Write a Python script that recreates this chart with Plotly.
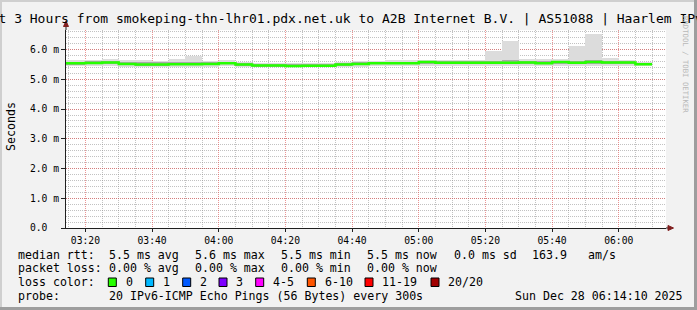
import plotly.graph_objects as go
import pandas as pd

W, H = 697, 310
L, R, T, B = 66, 31, 30, 82
PW = W - L - R
PH = H - T - B

# ---------------- data ----------------
bin_start = pd.date_range('2025-12-28 03:10:00', periods=36, freq='5min')
median_ms = [5.54, 5.54, 5.55, 5.57, 5.52, 5.50, 5.50, 5.51, 5.51, 5.52,
             5.545, 5.50, 5.47, 5.47, 5.45, 5.46, 5.46, 5.50, 5.52, 5.54,
             5.54, 5.54, 5.58, 5.56, 5.56, 5.56, 5.56, 5.56, 5.57, 5.545,
             5.58, 5.555, 5.585, 5.57, 5.57, 5.51]
smoke_min = [5.44, 5.44, 5.44, 5.45, 5.42, 5.42, 5.42, 5.43, 5.43, 5.43,
             5.44, 5.42, 5.40, 5.40, 5.40, 5.40, 5.40, 5.42, 5.43, 5.45,
             5.45, 5.45, 5.46, 5.45, 5.45, 5.45, 5.44, 5.44, 5.45, 5.45,
             5.46, 5.46, 5.46, 5.45, 5.46, 5.44]
smoke_lo = [5.49, 5.49, 5.50, 5.52, 5.47, 5.46, 5.46, 5.47, 5.47, 5.48,
            5.50, 5.46, 5.43, 5.43, 5.42, 5.43, 5.43, 5.46, 5.48, 5.50,
            5.50, 5.50, 5.53, 5.51, 5.51, 5.51, 5.51, 5.51, 5.52, 5.50,
            5.53, 5.51, 5.53, 5.52, 5.52, 5.47]
smoke_hi = [5.60, 5.60, 5.61, 5.62, 5.58, 5.57, 5.57, 5.58, 5.59, 5.58,
            5.60, 5.55, 5.52, 5.52, 5.50, 5.51, 5.51, 5.55, 5.57, 5.59,
            5.59, 5.59, 5.62, 5.61, 5.61, 5.61, 5.63, 5.64, 5.62, 5.61,
            5.63, 5.63, 5.66, 5.63, 5.61, 5.55]
smoke_max = [5.66, 5.66, 5.66, 5.67, 5.64, 5.64, 5.63, 5.67, 5.78, 5.62,
             5.64, 5.59, 5.56, 5.56, 5.56, 5.56, 5.56, 5.57, 5.61, 5.63,
             5.65, 5.65, 5.66, 5.65, 5.65, 5.65, 5.97, 6.28, 5.69, 5.69,
             5.69, 6.13, 6.53, 5.72, 5.64, 5.59]

y_tickvals = [0, 1, 2, 3, 4, 5, 6]
y_ticktext = ['0.0\u00a0\u00a0', '1.0 m', '2.0 m', '3.0 m', '4.0 m', '5.0 m', '6.0 m']

title_text = ('Last 3 Hours from smokeping-thn-lhr01.pdx.net.uk to A2B Internet B.V. '
              '| AS51088 | Haarlem IPv6')
rtt_labels = ['5.5 ms avg', '5.6 ms max', '5.5 ms min', '5.5 ms now', '0.0 ms sd', '163.9', 'am/s']
loss_labels = ['0.00 % avg', '0.00 % max', '0.00 % min', '0.00 % now']
loss_color_names = ['0', '1', '2', '3', '4-5', '6-10', '11-19', '20/20']
loss_colors = ['#26ff00', '#00b8ff', '#0059ff', '#7e00ff', '#ff00ff', '#ff5500', '#ff0000', '#a10000']
probe_text = '20 IPv6-ICMP Echo Pings (56 Bytes) every 300s'
date_text = 'Sun Dec 28 06:14:10 2025'

# ---------------- helpers ----------------
def px(x):
    return (x - L) / PW

def py(y):
    return (H - B - y) / PH

MONO = 'DejaVu Sans Mono'
FIVE_MIN = 300000

fig = go.Figure()

# smoke layers
outer_h = [a - b for a, b in zip(smoke_max, smoke_min)]
inner_h = [a - b for a, b in zip(smoke_hi, smoke_lo)]
fig.add_trace(go.Bar(x=bin_start, y=outer_h, base=smoke_min, width=FIVE_MIN, offset=0,
                     marker=dict(color='#dcdcdc', line=dict(width=0)), hoverinfo='skip'))
fig.add_trace(go.Bar(x=bin_start, y=inner_h, base=smoke_lo, width=FIVE_MIN, offset=0,
                     marker=dict(color='#a8a8a8', line=dict(width=0)), hoverinfo='skip'))

# median line (step)
line_x = list(bin_start) + [bin_start[-1] + pd.Timedelta(minutes=5)]
line_y = median_ms + [median_ms[-1]]
fig.add_trace(go.Scatter(x=line_x, y=line_y, mode='lines', line_shape='hv',
                         line=dict(color='#26ff00', width=2.5), hoverinfo='skip'))

annotations = []
shapes = []

def text(x, y, s, size=11.6, anchor='left', color='black', angle=0, yanchor='middle'):
    annotations.append(dict(x=px(x), y=py(y), xref='paper', yref='paper', text=s,
                            showarrow=False, xanchor=anchor, yanchor=yanchor,
                            textangle=angle,
                            font=dict(family=MONO, size=size, color=color)))

# title
text(-27.5, 18.5, title_text, size=13)
# axis label
text(11, 127, 'Seconds', size=11.6, anchor='center', angle=-90)
# rrdtool credit
text(686, 64, 'RRDTOOL / TOBI OETIKER', size=7.3, anchor='center', color='#b8b8b8', angle=90)

# legend rows
row_y = [254.5, 268.3, 282.3, 296]
text(16, row_y[0], 'median rtt:')
for xpos, s in zip([107.3, 193.3, 279.3, 365, 451.7, 530, 585.7], rtt_labels):
    text(xpos, row_y[0], s)
text(16, row_y[1], 'packet loss:')
for xpos, s in zip([107.3, 193.3, 279.3, 365], loss_labels):
    text(xpos, row_y[1], s)
text(16, row_y[2], 'loss color:')
for xpos, s, c in zip([108.3, 145.7, 182.7, 219, 255.7, 307.3, 365, 431],
                      loss_color_names, loss_colors):
    shapes.append(dict(type='rect', xref='paper', yref='paper',
                       x0=px(xpos), x1=px(xpos + 8), y0=py(286.5), y1=py(278),
                       fillcolor=c, line=dict(color='black', width=1)))
    text(xpos + 15.2, row_y[2], s)
text(16, row_y[3], 'probe:')
text(107.3, row_y[3], probe_text)
text(513.3, row_y[3], date_text)

# axis arrows
shapes.append(dict(type='line', xref='paper', yref='paper', x0=px(66), x1=px(66),
                   y0=py(30), y1=py(25), line=dict(color='#1f1f1f', width=1)))
shapes.append(dict(type='path', xref='paper', yref='paper',
                   path=f'M {px(63.5)},{py(26.5)} L {px(66)},{py(21)} L {px(68.5)},{py(26.5)} Z',
                   fillcolor='#801f1f', line=dict(color='#801f1f', width=1)))
shapes.append(dict(type='line', xref='paper', yref='paper', x0=px(666), x1=px(669),
                   y0=py(228), y1=py(228), line=dict(color='#1f1f1f', width=1)))
shapes.append(dict(type='path', xref='paper', yref='paper',
                   path=f'M {px(668)},{py(225.5)} L {px(673.5)},{py(228)} L {px(668)},{py(230.5)} Z',
                   fillcolor='#801f1f', line=dict(color='#801f1f', width=1)))

# frame (3D border)
shapes.append(dict(type='rect', xref='paper', yref='paper', x0=px(0), x1=px(2),
                   y0=py(310), y1=py(0), fillcolor='#cfcfcf', line=dict(width=0), layer='above'))
shapes.append(dict(type='rect', xref='paper', yref='paper', x0=px(0), x1=px(697),
                   y0=py(2), y1=py(0), fillcolor='#cfcfcf', line=dict(width=0), layer='above'))
shapes.append(dict(type='rect', xref='paper', yref='paper', x0=px(694), x1=px(697),
                   y0=py(310), y1=py(0), fillcolor='#9e9e9e', line=dict(width=0), layer='above'))
shapes.append(dict(type='rect', xref='paper', yref='paper', x0=px(0), x1=px(697),
                   y0=py(310), y1=py(307), fillcolor='#9e9e9e', line=dict(width=0), layer='above'))

grid_minor = 'rgba(143,143,143,0.55)'
grid_major = 'rgba(222,79,79,0.6)'

fig.update_layout(
    width=W, height=H,
    margin=dict(l=L, r=R, t=T, b=B, pad=0),
    paper_bgcolor='#f2f2f2', plot_bgcolor='white',
    showlegend=False, barmode='overlay', bargap=0,
    annotations=annotations, shapes=shapes,
    font=dict(family=MONO, color='black'),
    xaxis=dict(
        type='date',
        range=['2025-12-28 03:14:10', '2025-12-28 06:14:10'],
        tick0='2025-12-28 03:20:00', dtick=1200000, tickformat='%H:%M',
        ticks='outside', ticklen=3, tickcolor='#1f1f1f',
        tickfont=dict(family=MONO, size=9.7),
        showgrid=True, gridcolor=grid_major, griddash='1px,1px', gridwidth=1,
        minor=dict(dtick=300000, showgrid=True, gridcolor=grid_minor,
                   griddash='1px,1px', ticks='', gridwidth=1),
        showline=True, linecolor='#1f1f1f', linewidth=1,
        zeroline=False, fixedrange=True,
    ),
    yaxis=dict(
        range=[0, 6.66],
        tickvals=y_tickvals, ticktext=y_ticktext,
        ticks='outside', ticklen=4, tickcolor='#1f1f1f',
        tickfont=dict(family=MONO, size=9.7),
        showgrid=True, gridcolor=grid_major, griddash='1px,1px', gridwidth=1,
        minor=dict(dtick=0.2, showgrid=True, gridcolor=grid_minor,
                   griddash='1px,1px', ticks='', gridwidth=1),
        showline=True, linecolor='#1f1f1f', linewidth=1,
        zeroline=False, fixedrange=True,
    ),
)

fig.write_html('out.html')
